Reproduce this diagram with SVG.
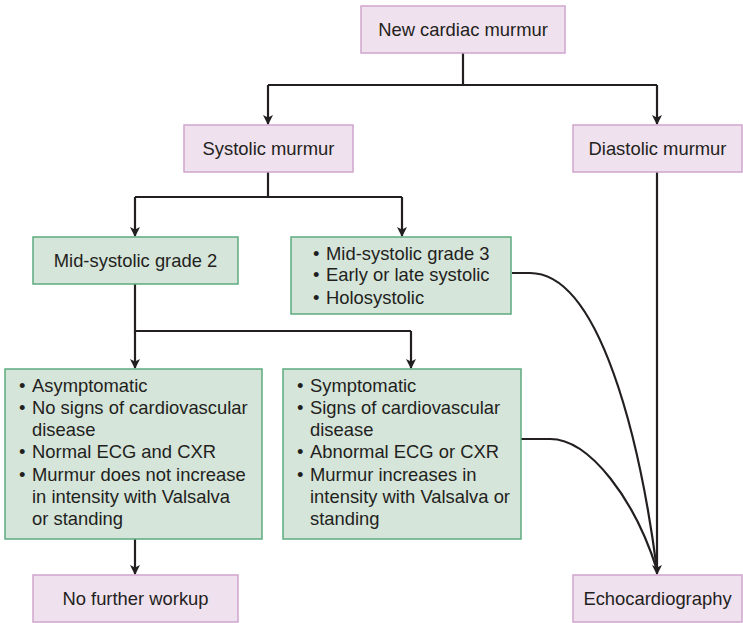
<svg xmlns="http://www.w3.org/2000/svg" width="743" height="623" viewBox="0 0 743 623">
  <defs>
    <marker id="arrow" markerWidth="10" markerHeight="12" refX="9" refY="5" orient="auto" markerUnits="userSpaceOnUse">
      <path d="M0,0 L10,5 L0,10 L2.5,5 Z" fill="#231f20"/>
    </marker>
    <style>
      text { font-family: "Liberation Sans", Arial, Helvetica, sans-serif; font-size: 18.4px; fill: #231f20; }
      .c { text-anchor: middle; }
      .pink { fill: #f0e1ef; stroke: #cfa5cd; stroke-width: 1.5; }
      .green { fill: #d5e5da; stroke: #5caa7f; stroke-width: 1.5; }
      .line { fill: none; stroke: #231f20; stroke-width: 2.2; }
    </style>
  </defs>
  <rect width="743" height="623" fill="#ffffff"/>

  <!-- connectors -->
  <g id="connectors">
    <path class="line" d="M463,53 V85"/>
    <path class="line" d="M268,85 H657"/>
    <path class="line" d="M268,85 V124" marker-end="url(#arrow)"/>
    <path class="line" d="M657,85 V124" marker-end="url(#arrow)"/>
    <path class="line" d="M268,172 V197 M135,197 H402"/>
    <path class="line" d="M135,197 V236" marker-end="url(#arrow)"/>
    <path class="line" d="M402,197 V236" marker-end="url(#arrow)"/>
    <path class="line" d="M135,284 V331 H411"/>
    <path class="line" d="M135,331 V368" marker-end="url(#arrow)"/>
    <path class="line" d="M411,331 V368" marker-end="url(#arrow)"/>
    <path class="line" d="M135,539 V574" marker-end="url(#arrow)"/>
    <path class="line" d="M657,172 V574" marker-end="url(#arrow)"/>
    <path class="line" d="M512,273 H530 C600,273 640,440 657,570"/>
    <path class="line" d="M521,439 H550 C590,439 635,500 657,570"/>
  </g>

  <g id="new-cardiac-murmur">
    <rect class="pink" x="361" y="6" width="204" height="47"/>
    <text class="c" x="463" y="36">New cardiac murmur</text>
  </g>

  <g id="systolic-murmur">
    <rect class="pink" x="184" y="125" width="169" height="47"/>
    <text class="c" x="268.5" y="155">Systolic murmur</text>
  </g>

  <g id="diastolic-murmur">
    <rect class="pink" x="573" y="125" width="169" height="47"/>
    <text class="c" x="657.5" y="155">Diastolic murmur</text>
  </g>

  <g id="mid-systolic-2">
    <rect class="green" x="33" y="237" width="205" height="47"/>
    <text class="c" x="135.5" y="267">Mid-systolic grade 2</text>
  </g>

  <g id="mid-systolic-3">
    <rect class="green" x="291" y="237" width="220" height="77"/>
    <text x="313" y="259.5">•</text><text x="326" y="259.5">Mid-systolic grade 3</text>
    <text x="313" y="281">•</text><text x="326" y="281">Early or late systolic</text>
    <text x="313" y="303.5">•</text><text x="326" y="303.5">Holosystolic</text>
  </g>

  <g id="asymptomatic">
    <rect class="green" x="5" y="369" width="257" height="170"/>
    <text x="19" y="391.5">•</text><text x="32" y="391.5">Asymptomatic</text>
    <text x="19" y="413.8">•</text><text x="32" y="413.8">No signs of cardiovascular</text>
    <text x="32" y="436.1">disease</text>
    <text x="19" y="458.4">•</text><text x="32" y="458.4">Normal ECG and CXR</text>
    <text x="19" y="480.7">•</text><text x="32" y="480.7">Murmur does not increase</text>
    <text x="32" y="503">in intensity with Valsalva</text>
    <text x="32" y="525.3">or standing</text>
  </g>

  <g id="symptomatic">
    <rect class="green" x="283" y="369" width="238" height="170"/>
    <text x="297" y="391.5">•</text><text x="310" y="391.5">Symptomatic</text>
    <text x="297" y="413.8">•</text><text x="310" y="413.8">Signs of cardiovascular</text>
    <text x="310" y="436.1">disease</text>
    <text x="297" y="458.4">•</text><text x="310" y="458.4">Abnormal ECG or CXR</text>
    <text x="297" y="480.7">•</text><text x="310" y="480.7">Murmur increases in</text>
    <text x="310" y="503">intensity with Valsalva or</text>
    <text x="310" y="525.3">standing</text>
  </g>

  <g id="no-further-workup">
    <rect class="pink" x="33" y="575" width="205" height="47"/>
    <text class="c" x="135.5" y="605">No further workup</text>
  </g>

  <g id="echocardiography">
    <rect class="pink" x="573" y="575" width="169" height="47"/>
    <text class="c" x="657.5" y="605">Echocardiography</text>
  </g>
</svg>
